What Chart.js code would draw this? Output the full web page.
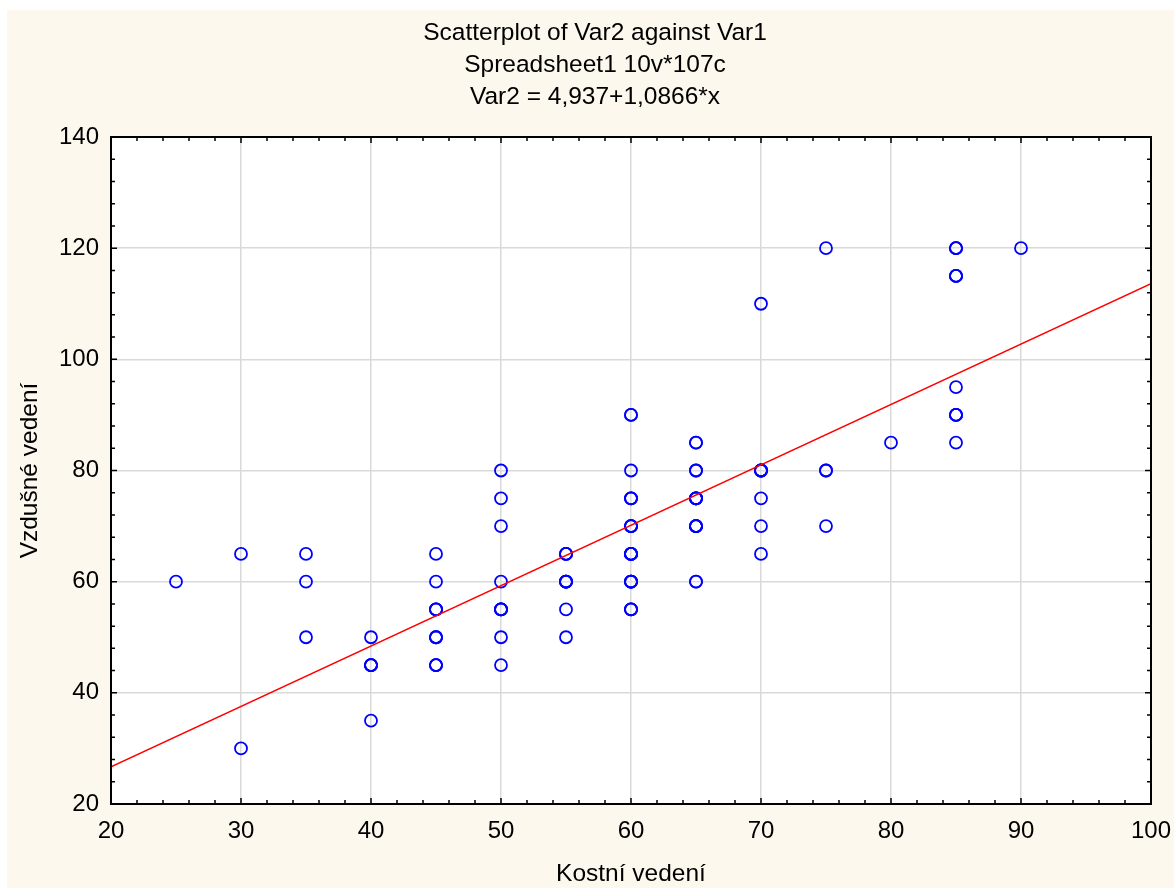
<!DOCTYPE html>
<html>
<head>
<meta charset="utf-8">
<script src="https://cdn.jsdelivr.net/npm/chart.js@4.4.1/dist/chart.umd.min.js"></script>
<style>
  html, body { margin: 0; padding: 0; background: #fff; }
  #wrap { position: absolute; left: 7px; top: 10px; width: 1167px; height: 878px; background: #fdf8ed; }
</style>
</head>
<body>
<div id="wrap"><canvas id="scatter"></canvas></div>
<script>
const titleLines = ['Scatterplot of Var2 against Var1', 'Spreadsheet1 10v*107c', 'Var2 = 4,937+1,0866*x'];
const xTitle = 'Kostní vedení';
const yTitle = 'Vzdušné vedení';

// Var1 (Kostní vedení) and Var2 (Vzdušné vedení), 107 cases, grouped by Var1
const var1 = [
  25,
  30, 30,
  35, 35, 35,
  40, 40, 40, 40, 40, 40,
  45, 45, 45, 45, 45, 45, 45, 45, 45, 45, 45,
  50, 50, 50, 50, 50, 50, 50, 50, 50, 50,
  55, 55, 55, 55, 55, 55, 55, 55, 55, 55,
  60, 60, 60, 60, 60, 60, 60, 60, 60, 60, 60, 60, 60, 60, 60, 60, 60, 60, 60, 60, 60, 60, 60,
  65, 65, 65, 65, 65, 65, 65, 65, 65, 65, 65, 65, 65, 65, 65, 65,
  70, 70, 70, 70, 70, 70, 70, 70,
  75, 75, 75, 75,
  80,
  85, 85, 85, 85, 85, 85, 85, 85, 85, 85, 85,
  90
];
const var2 = [
  60,
  65, 30,
  65, 60, 50,
  50, 45, 45, 45, 45, 35,
  65, 60, 55, 55, 55, 50, 50, 50, 45, 45, 45,
  80, 75, 70, 60, 55, 55, 55, 55, 50, 45,
  65, 65, 65, 60, 60, 60, 60, 60, 55, 50,
  90, 90, 80, 75, 75, 75, 70, 70, 70, 70, 65, 65, 65, 65, 65, 60, 60, 60, 60, 60, 55, 55, 55,
  85, 85, 80, 80, 75, 75, 75, 75, 75, 70, 70, 70, 70, 70, 60, 60,
  110, 80, 80, 80, 80, 75, 70, 65,
  120, 80, 80, 70,
  85,
  120, 120, 120, 115, 115, 115, 95, 90, 90, 90, 85,
  120
];

// fitted line from the title
const intercept = 4.937;
const slope = 1.0866;

const xMin = 20, xMax = 100, xStep = 10, xMinor = 2;
const yMin = 20, yMax = 140, yStep = 20, yMinor = 4;

const points = var1.map((v, i) => ({ x: v, y: var2[i] }));
const fitLine = [xMin, xMax].map(v => ({ x: v, y: intercept + slope * v }));

const fontFamily = '"Liberation Sans", Arial, sans-serif';
Chart.defaults.font.family = fontFamily;
Chart.defaults.color = '#000';

// white plot area, black frame with inward major/minor ticks, 3-line heading
const framePlugin = {
  id: 'frame',
  beforeDraw(chart) {
    const { ctx, chartArea: a } = chart;
    ctx.save();
    ctx.fillStyle = '#fff';
    ctx.fillRect(a.left, a.top, a.right - a.left, a.bottom - a.top);
    ctx.restore();
  },
  afterDraw(chart) {
    const { ctx, chartArea: a } = chart;
    const sx = chart.scales.x, sy = chart.scales.y;
    ctx.save();
    ctx.strokeStyle = '#000';
    ctx.lineWidth = 1.5;
    ctx.beginPath();
    for (let v = xMin; v <= xMax; v += xMinor) {
      const px = sx.getPixelForValue(v);
      const len = v % xStep === 0 ? 6 : 4;
      ctx.moveTo(px, a.bottom); ctx.lineTo(px, a.bottom - len);
      ctx.moveTo(px, a.top); ctx.lineTo(px, a.top + len);
    }
    for (let v = yMin; v <= yMax; v += yMinor) {
      const py = sy.getPixelForValue(v);
      const len = v % yStep === 0 ? 6 : 4;
      ctx.moveTo(a.left, py); ctx.lineTo(a.left + len, py);
      ctx.moveTo(a.right, py); ctx.lineTo(a.right - len, py);
    }
    ctx.stroke();
    ctx.lineWidth = 2;
    ctx.strokeRect(a.left, a.top, a.right - a.left, a.bottom - a.top);

    ctx.fillStyle = '#000';
    ctx.font = '24.5px ' + fontFamily;
    ctx.textAlign = 'center';
    ctx.textBaseline = 'alphabetic';
    titleLines.forEach((t, i) => ctx.fillText(t, 588, 29.5 + i * 32));
    ctx.restore();
  }
};

const chart = new Chart(document.getElementById('scatter').getContext('2d'), {
  type: 'scatter',
  data: {
    datasets: [
      {
        label: 'Var2',
        data: points,
        order: 1,
        pointStyle: 'circle',
        pointRadius: 6,
        pointBorderWidth: 1.8,
        pointBorderColor: '#0000ff',
        pointBackgroundColor: 'rgba(0,0,0,0)'
      },
      {
        type: 'line',
        label: 'fit',
        data: fitLine,
        order: 0,
        borderColor: '#ff0000',
        borderWidth: 1.5,
        pointRadius: 0,
        fill: false
      }
    ]
  },
  options: {
    responsive: true,
    maintainAspectRatio: false,
    animation: false,
    layout: { padding: { top: 127, left: 0, right: 23, bottom: 0 } },
    plugins: {
      legend: { display: false },
      tooltip: { enabled: false },
      title: { display: false }
    },
    scales: {
      x: {
        type: 'linear',
        min: xMin,
        max: xMax,
        afterFit(scale) { scale.height = 84; scale.paddingLeft = 0; scale.paddingRight = 0; },
        ticks: { stepSize: xStep, font: { size: 24 }, padding: 13, color: '#000' },
        grid: { color: '#d9d9d9', lineWidth: 1.5, drawTicks: false },
        border: { display: false },
        title: { display: true, text: xTitle, font: { size: 24.5 }, color: '#000', padding: { top: 0, bottom: -1 } }
      },
      y: {
        type: 'linear',
        min: yMin,
        max: yMax,
        afterFit(scale) { scale.width = 104; },
        ticks: { stepSize: yStep, font: { size: 24 }, padding: 12, color: '#000' },
        grid: { color: '#d9d9d9', lineWidth: 1.5, drawTicks: false },
        border: { display: false },
        title: { display: true, text: yTitle, font: { size: 24.5 }, color: '#000', padding: { top: 9, bottom: 0 } }
      }
    }
  },
  plugins: [framePlugin]
});
</script>
</body>
</html>
